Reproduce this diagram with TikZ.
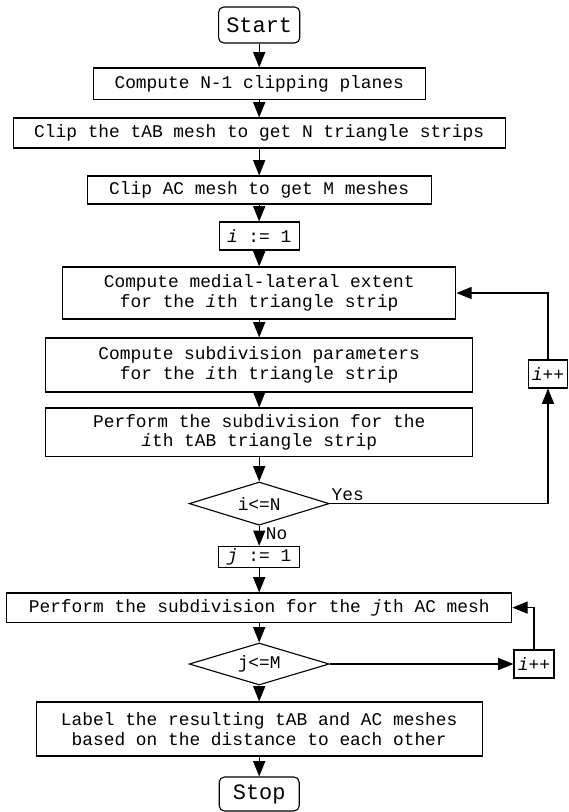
\documentclass[tikz,border=0pt]{standalone}
\usepackage{fontspec}
\setmonofont{Liberation Mono}
\usetikzlibrary{shapes.geometric,arrows.meta}
\tikzstyle{every path}=[line width=0.8pt]
\tikzstyle{block}=[draw, align=center, inner sep=0pt,
    font=\ttfamily\fontsize{12.7}{14}\selectfont]
\tikzstyle{terminal}=[block, rounded corners=0.13cm,
    font=\ttfamily\fontsize{15.6}{17}\selectfont]
\tikzstyle{decision}=[block, diamond, aspect=3.25]
\tikzstyle{flowarrow}=[-{Triangle[length=0.38cm,width=0.3cm]}]
\tikzstyle{branch}=[font=\ttfamily\fontsize{12.7}{14}\selectfont, inner sep=1pt]

\begin{document}
\begin{tikzpicture}
            \useasboundingbox (0, 0) rectangle (14.2, -20.3);

            \node[terminal, minimum width=2.03cm, minimum height=0.9cm]
                (start) at (6.48, -0.625) {Start};
            \node[block, minimum width=8.3cm, minimum height=0.78cm]
                (planes) at (6.48, -2.09) {Compute N-1 clipping planes};
            \node[block, minimum width=12.3cm, minimum height=0.75cm]
                (clipab) at (6.48, -3.325) {Clip the tAB mesh to get N triangle strips};
            \node[block, minimum width=8.6cm, minimum height=0.7cm]
                (clipac) at (6.48, -4.75) {Clip AC mesh to get M meshes};
            \node[block, minimum width=2.0cm, minimum height=0.7cm]
                (iinit) at (6.48, -5.9) {\textit{i} := 1};
            \node[block, minimum width=9.83cm, minimum height=1.3cm]
                (extent) at (6.48, -7.325) {Compute medial-lateral extent\\for the \textit{i}th triangle strip};
            \node[block, minimum width=10.68cm, minimum height=1.35cm]
                (params) at (6.48, -9.125) {Compute subdivision parameters\\for the \textit{i}th triangle strip};
            \node[block, minimum width=10.68cm, minimum height=1.22cm]
                (subdivab) at (6.48, -10.81) {Perform the subdivision for the\\\textit{i}th tAB triangle strip};
            \node[decision, minimum width=3.5cm, minimum height=1.08cm]
                (testi) at (6.48, -12.59) {i<=N};
            \node[block, minimum width=2.02cm, minimum height=0.52cm]
                (jinit) at (6.48, -13.92) {\textit{j} := 1};
            \node[block, minimum width=12.63cm, minimum height=0.73cm]
                (subdivac) at (6.48, -15.19) {Perform the subdivision for the \textit{j}th AC mesh};
            \node[decision, minimum width=3.5cm, minimum height=1.05cm]
                (testj) at (6.48, -16.6) {j<=M};
            \node[block, minimum width=11.15cm, minimum height=1.35cm]
                (label) at (6.48, -18.225) {Label the resulting tAB and AC meshes\\based on the distance to each other};
            \node[terminal, minimum width=2.0cm, minimum height=0.85cm]
                (stop) at (6.48, -19.85) {Stop};

            \node[block, minimum width=0.98cm, minimum height=0.7cm]
                (incri) at (13.7, -9.35) {\textit{i}++};
            \node[block, minimum width=1.0cm, minimum height=0.7cm]
                (incrj) at (13.35, -16.6) {\textit{i}++};

            \draw[flowarrow] (start) -- (planes);
            \draw[flowarrow] (planes) -- (clipab);
            \draw[flowarrow] (clipab) -- (clipac);
            \draw[flowarrow] (clipac) -- (iinit);
            \draw[flowarrow] (iinit) -- (extent);
            \draw[flowarrow] (extent) -- (params);
            \draw[flowarrow] (params) -- (subdivab);
            \draw[flowarrow] (subdivab) -- (testi);
            \draw[flowarrow] (testi) -- (jinit)
                node[branch, pos=0.4, right=0.12cm]{No};
            \draw[flowarrow] (jinit) -- (subdivac);
            \draw[flowarrow] (subdivac) -- (testj);
            \draw[flowarrow] (testj) -- (label);
            \draw[flowarrow] (label) -- (stop);

            % loop over the triangle strips
            \draw[flowarrow] (testi.east) -- (testi.east -| incri.south)
                node[branch, pos=0, anchor=south west, yshift=1pt]{Yes}
                -- (incri.south);
            \draw[flowarrow] (incri.north) |- (extent.east);

            % loop over the AC meshes
            \draw[flowarrow] (testj.east) -- (incrj.west);
            \draw[flowarrow] (incrj.north) |- (subdivac.east);
\end{tikzpicture}
\end{document}
